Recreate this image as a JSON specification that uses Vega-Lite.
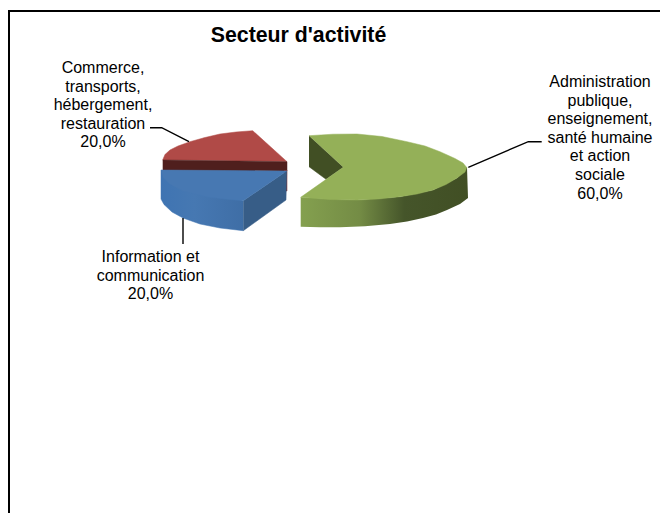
{
"$schema":"https://vega.github.io/schema/vega-lite/v6.json",
"width":660,"height":513,"padding":0,"autosize":{"type":"none"},"background":"white",
"title":{"text":"Secteur d'activité","font":"Liberation Sans","fontSize":21.3,"fontWeight":"bold","color":"#000000","anchor":"middle","frame":"group","dx":-31.5,"dy":63,"offset":0,"baseline":"alphabetic"},
"config":{"view":{"stroke":null}},
"datasets":{
"shapes":[
{"part":"redTop","i":1,"x":162.7,"y":160},{"part":"redTop","i":2,"x":165,"y":154.5},{"part":"redTop","i":3,"x":170,"y":150},{"part":"redTop","i":4,"x":178,"y":146},{"part":"redTop","i":5,"x":190,"y":141.7},{"part":"redTop","i":6,"x":205,"y":137.5},{"part":"redTop","i":7,"x":220,"y":134},{"part":"redTop","i":8,"x":236,"y":132},{"part":"redTop","i":9,"x":252.7,"y":130.7},{"part":"redTop","i":10,"x":287,"y":161.7},
{"part":"redSide","i":1,"x":162.7,"y":160},{"part":"redSide","i":2,"x":287,"y":161.7},{"part":"redSide","i":3,"x":287,"y":171},{"part":"redSide","i":4,"x":162.7,"y":170.5},
{"part":"redStrip","i":1,"x":287,"y":170},{"part":"redStrip","i":2,"x":287,"y":191},{"part":"redStrip","i":3,"x":284,"y":191},{"part":"redStrip","i":4,"x":284,"y":170},
{"part":"blueWall","i":1,"x":161,"y":170},{"part":"blueWall","i":2,"x":161,"y":199},{"part":"blueWall","i":3,"x":164,"y":204.5},{"part":"blueWall","i":4,"x":172,"y":212},{"part":"blueWall","i":5,"x":183,"y":218},{"part":"blueWall","i":6,"x":200,"y":224},{"part":"blueWall","i":7,"x":220,"y":228},{"part":"blueWall","i":8,"x":243.3,"y":230.7},{"part":"blueWall","i":9,"x":243.3,"y":200.7},
{"part":"blueSide","i":1,"x":243.3,"y":200.7},{"part":"blueSide","i":2,"x":286.7,"y":171},{"part":"blueSide","i":3,"x":286,"y":200},{"part":"blueSide","i":4,"x":243.3,"y":230.7},
{"part":"blueTop","i":1,"x":161,"y":170},{"part":"blueTop","i":2,"x":286.7,"y":171},{"part":"blueTop","i":3,"x":243.3,"y":200.7},{"part":"blueTop","i":4,"x":225,"y":199},{"part":"blueTop","i":5,"x":208,"y":197},{"part":"blueTop","i":6,"x":183,"y":191},{"part":"blueTop","i":7,"x":170,"y":184},{"part":"blueTop","i":8,"x":163,"y":177},
{"part":"greenInner","i":1,"x":309,"y":135.7},{"part":"greenInner","i":2,"x":343.3,"y":167.3},{"part":"greenInner","i":3,"x":326,"y":179.3},{"part":"greenInner","i":4,"x":309,"y":166.7},
{"part":"greenWall","i":1,"x":300.7,"y":197.3},{"part":"greenWall","i":2,"x":357,"y":200},{"part":"greenWall","i":3,"x":400,"y":196.7},{"part":"greenWall","i":4,"x":433,"y":190},{"part":"greenWall","i":5,"x":457,"y":178},{"part":"greenWall","i":6,"x":467,"y":167},{"part":"greenWall","i":7,"x":468,"y":198},{"part":"greenWall","i":8,"x":460,"y":204},{"part":"greenWall","i":9,"x":447,"y":210},{"part":"greenWall","i":10,"x":436,"y":214.5},{"part":"greenWall","i":11,"x":423,"y":218},{"part":"greenWall","i":12,"x":407,"y":221.5},{"part":"greenWall","i":13,"x":390,"y":224},{"part":"greenWall","i":14,"x":365,"y":226.3},{"part":"greenWall","i":15,"x":340,"y":227.3},{"part":"greenWall","i":16,"x":320,"y":227.3},{"part":"greenWall","i":17,"x":300.7,"y":226.7},
{"part":"greenTop","i":1,"x":309,"y":135.7},{"part":"greenTop","i":2,"x":333,"y":134.2},{"part":"greenTop","i":3,"x":357,"y":134},{"part":"greenTop","i":4,"x":382,"y":136.5},{"part":"greenTop","i":5,"x":407,"y":141.7},{"part":"greenTop","i":6,"x":425,"y":146},{"part":"greenTop","i":7,"x":440,"y":151.7},{"part":"greenTop","i":8,"x":455,"y":158.5},{"part":"greenTop","i":9,"x":463,"y":163},{"part":"greenTop","i":10,"x":466.7,"y":167.5},{"part":"greenTop","i":11,"x":465,"y":172},{"part":"greenTop","i":12,"x":457,"y":178},{"part":"greenTop","i":13,"x":446,"y":184.5},{"part":"greenTop","i":14,"x":433,"y":190},{"part":"greenTop","i":15,"x":417,"y":194},{"part":"greenTop","i":16,"x":400,"y":196.7},{"part":"greenTop","i":17,"x":378,"y":199},{"part":"greenTop","i":18,"x":357,"y":200},{"part":"greenTop","i":19,"x":330,"y":199.5},{"part":"greenTop","i":20,"x":300.7,"y":197.3},{"part":"greenTop","i":21,"x":343.3,"y":167.3}
],
"lines":[
{"part":"frame","i":1,"x":9,"y":513},{"part":"frame","i":2,"x":9,"y":11},{"part":"frame","i":3,"x":660,"y":11},
{"part":"leaderRed","i":1,"x":150,"y":127.7},{"part":"leaderRed","i":2,"x":161.7,"y":127.7},{"part":"leaderRed","i":3,"x":189,"y":141.7},
{"part":"leaderBlue","i":1,"x":183,"y":218},{"part":"leaderBlue","i":2,"x":183,"y":244},
{"part":"leaderGreen","i":1,"x":541.7,"y":141.7},{"part":"leaderGreen","i":2,"x":528.3,"y":141.7},{"part":"leaderGreen","i":3,"x":468.3,"y":167.3}
],
"labels":[
{"label":"Commerce,\ntransports,\nhébergement,\nrestauration\n20,0%","x":103,"y":60},
{"label":"Information et\ncommunication\n20,0%","x":150.5,"y":249},
{"label":"Administration\npublique,\nenseignement,\nsanté humaine\net action\nsociale\n60,0%","x":600,"y":74}
]},
"encoding":{
"x":{"field":"x","type":"quantitative","axis":null,"scale":{"domain":[0,660],"nice":false,"zero":false}},
"y":{"field":"y","type":"quantitative","axis":null,"scale":{"domain":[513,0],"nice":false,"zero":false}}
},
"layer":[
{"data":{"name":"shapes"},"transform":[{"filter":"datum.part==='redTop'"}],"mark":{"type":"line","fill":"#b04a47","stroke":"#b04a47","strokeWidth":0.5},"encoding":{"order":{"field":"i","type":"quantitative"}}},
{"data":{"name":"shapes"},"transform":[{"filter":"datum.part==='redSide'"}],"mark":{"type":"line","fill":"#4f1f1d","stroke":"#4f1f1d","strokeWidth":0.5},"encoding":{"order":{"field":"i","type":"quantitative"}}},
{"data":{"name":"shapes"},"transform":[{"filter":"datum.part==='redStrip'"}],"mark":{"type":"line","fill":"#7e2f2c","stroke":"#7e2f2c","strokeWidth":0.5},"encoding":{"order":{"field":"i","type":"quantitative"}}},
{"data":{"name":"shapes"},"transform":[{"filter":"datum.part==='blueWall'"}],"mark":{"type":"line","fill":{"gradient":"linear","x1":0,"y1":0,"x2":1,"y2":0,"stops":[{"offset":0,"color":"#3f74b2"},{"offset":0.4,"color":"#4678b2"},{"offset":1,"color":"#3f6ea6"}]},"stroke":"#4174b0","strokeWidth":0.5},"encoding":{"order":{"field":"i","type":"quantitative"}}},
{"data":{"name":"shapes"},"transform":[{"filter":"datum.part==='blueSide'"}],"mark":{"type":"line","fill":"#375d87","stroke":"#375d87","strokeWidth":0.5},"encoding":{"order":{"field":"i","type":"quantitative"}}},
{"data":{"name":"shapes"},"transform":[{"filter":"datum.part==='blueTop'"}],"mark":{"type":"line","fill":"#4778b2","stroke":"#4778b2","strokeWidth":0.5},"encoding":{"order":{"field":"i","type":"quantitative"}}},
{"data":{"name":"shapes"},"transform":[{"filter":"datum.part==='greenInner'"}],"mark":{"type":"line","fill":"#414f24","stroke":"#414f24","strokeWidth":0.5},"encoding":{"order":{"field":"i","type":"quantitative"}}},
{"data":{"name":"shapes"},"transform":[{"filter":"datum.part==='greenWall'"}],"mark":{"type":"line","fill":{"gradient":"linear","x1":0,"y1":0,"x2":1,"y2":0,"stops":[{"offset":0,"color":"#84a04f"},{"offset":0.35,"color":"#748c45"},{"offset":0.62,"color":"#45552a"},{"offset":1,"color":"#414f24"}]},"stroke":null,"strokeWidth":0},"encoding":{"order":{"field":"i","type":"quantitative"}}},
{"data":{"name":"shapes"},"transform":[{"filter":"datum.part==='greenTop'"}],"mark":{"type":"line","fill":"#94b058","stroke":"#94b058","strokeWidth":0.5},"encoding":{"order":{"field":"i","type":"quantitative"}}},
{"data":{"name":"lines"},"mark":{"type":"line","stroke":"#000000","strokeWidth":1.4},"transform":[{"filter":"datum.part!=='frame'"}],"encoding":{"detail":{"field":"part"},"order":{"field":"i","type":"quantitative"}}},
{"data":{"name":"lines"},"mark":{"type":"line","stroke":"#000000","strokeWidth":2},"transform":[{"filter":"datum.part==='frame'"}],"encoding":{"order":{"field":"i","type":"quantitative"}}},
{"data":{"name":"labels"},"mark":{"type":"text","font":"Liberation Sans","fontSize":16,"lineBreak":"\n","lineHeight":18.6,"align":"center","baseline":"top","color":"#000000"},"encoding":{"text":{"field":"label"}}}
]
}
